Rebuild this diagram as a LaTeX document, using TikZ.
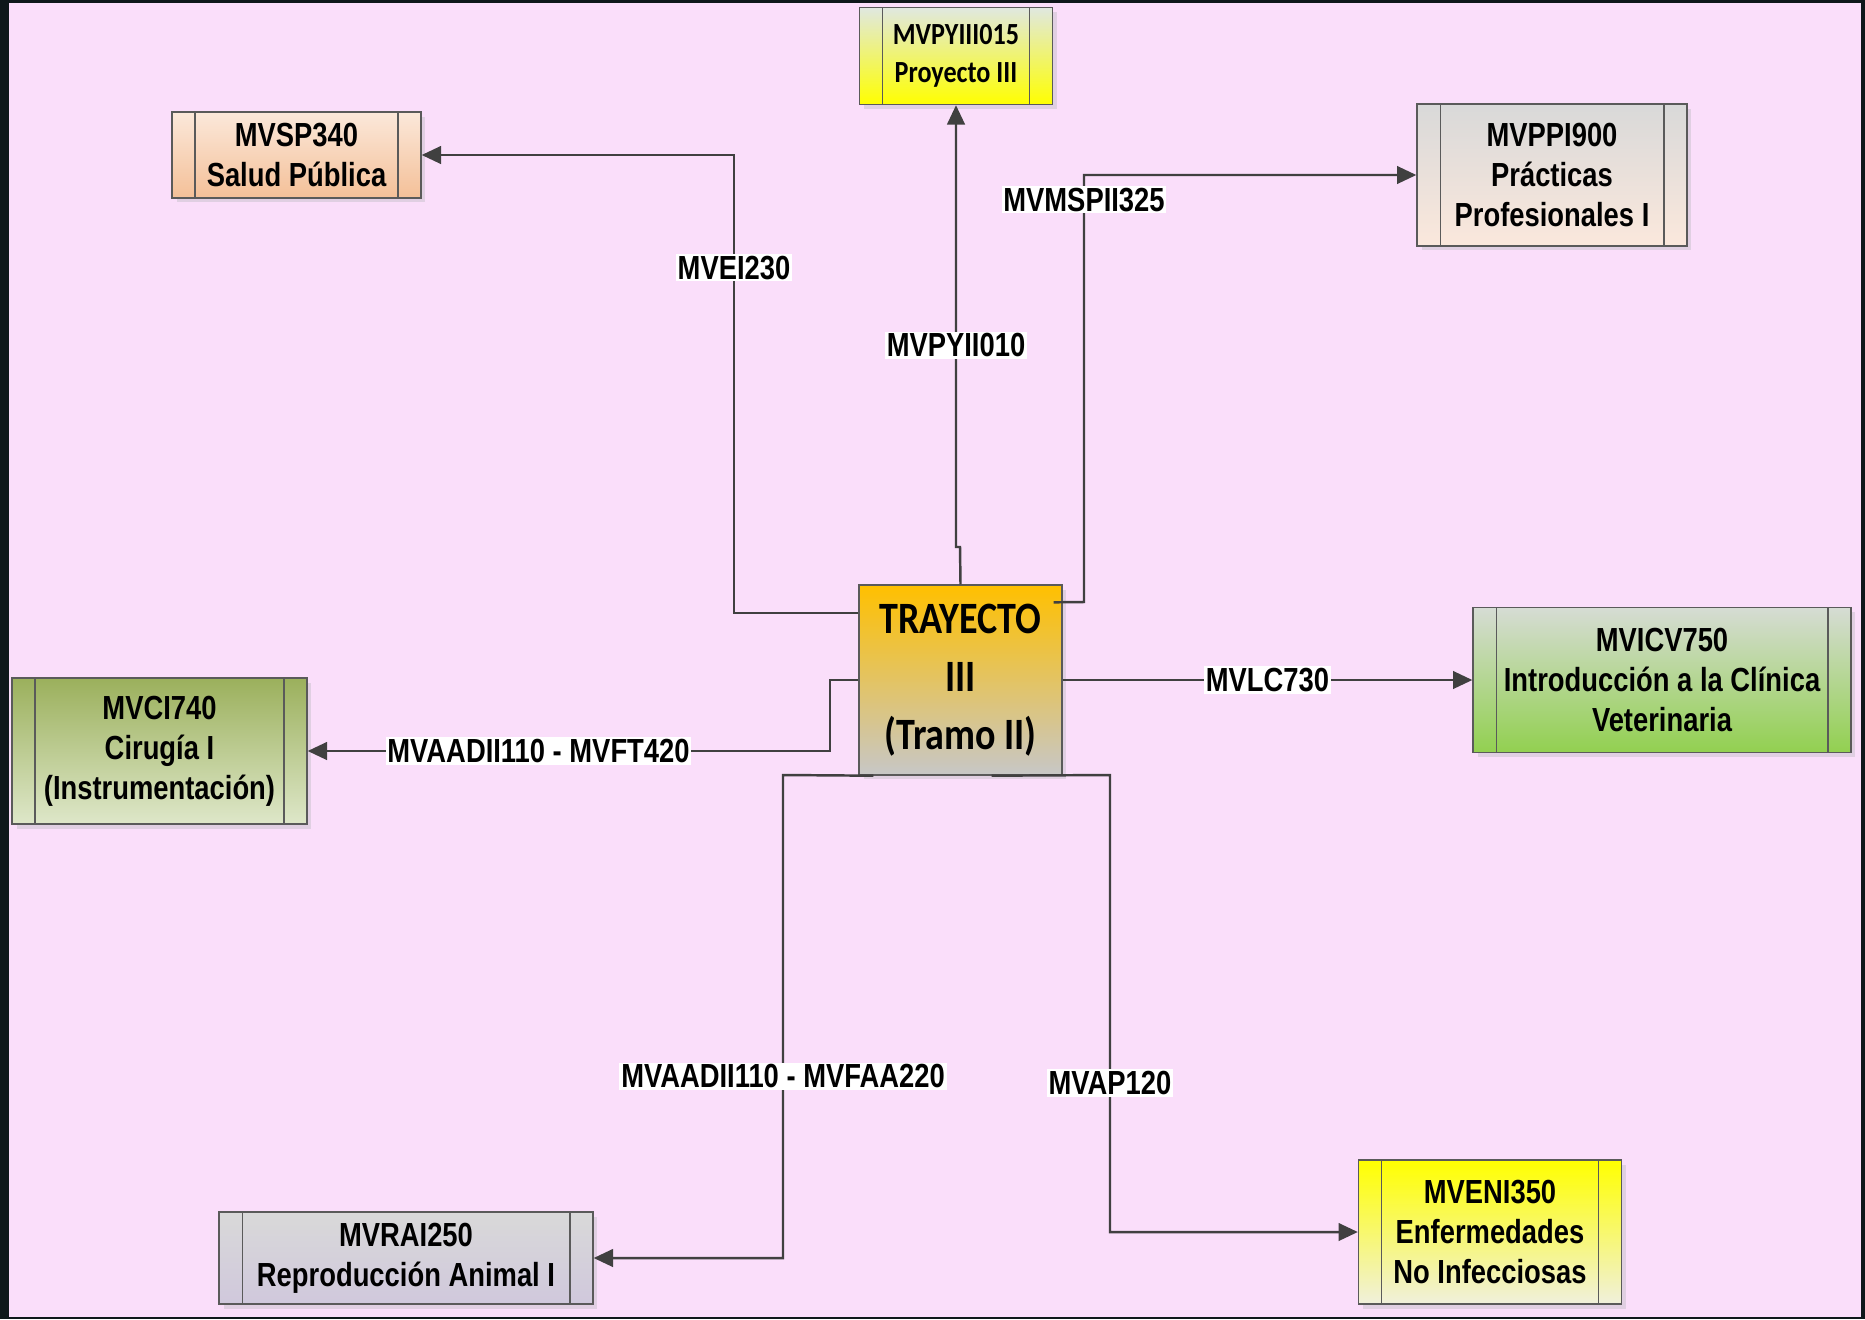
\documentclass[tikz,border=0pt]{standalone}
\usepackage{fontspec}
\newfontfamily\narrowfont{Liberation Sans}[FakeStretch=0.82]
\newfontfamily\califont{Carlito}[FakeStretch=0.85]
\usetikzlibrary{arrows.meta,shadows}
\definecolor{fondrose}{HTML}{FADEFA}
\definecolor{fondnoir}{HTML}{0E171A}
\definecolor{trait}{HTML}{404040}
\definecolor{bord}{HTML}{5A5A5A}
\definecolor{ombre}{HTML}{E0CFE2}
\tikzset{
  materia/.style={draw=bord, line width=0.8pt, align=center, inner sep=0pt,
    font=\narrowfont\bfseries\fontsize{19}{22.7}\selectfont,
    drop shadow={shadow xshift=0.09cm, shadow yshift=-0.09cm, fill=ombre, opacity=1},
    path picture={\draw[bord, line width=0.6pt]
      ([xshift=0.46cm]path picture bounding box.north west) -- ([xshift=0.46cm]path picture bounding box.south west)
      ([xshift=-0.46cm]path picture bounding box.north east) -- ([xshift=-0.46cm]path picture bounding box.south east);}},
  enlace/.style={draw=trait, line width=1.4pt, -{Triangle[length=11pt,width=10pt]}},
  etiqueta/.style={fill=white, inner sep=1pt, font=\narrowfont\bfseries\fontsize{19}{22.7}\selectfont}
}
\begin{document}
\begin{tikzpicture}[x=0.02cm, y=-0.02cm]
  \useasboundingbox (0,0) rectangle (1865,1319);
  \fill[fondnoir] (0,0) rectangle (1865,1319);
  \fill[fondrose] (9,3) rectangle (1861,1317);
  % materias
  \node[materia, minimum width=4.06cm, minimum height=3.80cm, path picture={}, top color={rgb,255:red,255;green,192;blue,0}, bottom color=black!22,
        font=\califont\bfseries\fontsize{25.5}{33}\selectfont] (tray) at (960.5,680) {TRAYECTO\\III\\(Tramo II)};
  \node[materia, minimum width=3.86cm, minimum height=1.94cm, top color={rgb,255:red,224;green,232;blue,224}, bottom color=yellow,
        font=\califont\bfseries\fontsize{17.5}{21.5}\selectfont] (proy) at (956,56) {MVPYIII015\\Proyecto III};
  \node[materia, minimum width=4.98cm, minimum height=1.72cm, top color={rgb,255:red,251;green,232;blue,218}, bottom color={rgb,255:red,244;green,192;blue,152}] (salud) at (296.5,155) {MVSP340\\Salud Pública};
  \node[materia, minimum width=5.40cm, minimum height=2.84cm, top color=black!15, bottom color={rgb,255:red,251;green,232;blue,220}] (ppi) at (1552,175) {MVPPI900\\Prácticas\\Profesionales I};
  \node[materia, minimum width=5.90cm, minimum height=2.92cm, top color={rgb,255:red,155;green,176;blue,92}, bottom color={rgb,255:red,222;green,231;blue,201}] (cir) at (159.5,751) {MVCI740\\Cirugía I\\(Instrumentación)};
  \node[materia, minimum width=7.56cm, minimum height=2.90cm, top color={rgb,255:red,214;green,220;blue,212}, bottom color={rgb,255:red,146;green,208;blue,80}] (icv) at (1662,680) {MVICV750\\Introducción a la Clínica\\Veterinaria};
  \node[materia, minimum width=7.48cm, minimum height=1.84cm, top color=black!15, bottom color={rgb,255:red,208;green,200;blue,220}] (rai) at (406,1258) {MVRAI250\\Reproducción Animal I};
  \node[materia, minimum width=5.26cm, minimum height=2.88cm, top color=yellow, bottom color={rgb,255:red,240;green,240;blue,220}] (eni) at (1490,1232) {MVENI350\\Enfermedades\\No Infecciosas};
  % enlaces
  \draw[enlace] (tray.west |- 0,613) -- (734,613) |- node[etiqueta, pos=0.377] {MVEI230} (salud.east);
  \draw[enlace] (tray.north) -- (960,547) -- (956,547) -- node[etiqueta, pos=0.457] {MVPYII010} (proy.south);
  \draw[enlace] ([shift={(-9,18)}]tray.north east) -- (1084,602) |- node[etiqueta, pos=0.471] {MVMSPII325} (ppi.west);
  \draw[enlace] (tray.east) -- node[etiqueta] {MVLC730} (icv.west);
  \draw[enlace] (tray.west) -- (830,680) |- node[etiqueta, pos=0.779] {MVAADII110 - MVFT420} (cir.east);
  \draw[enlace] ([shift={(15,0)}]tray.south west) -- (783,775) |- node[etiqueta, pos=0.312] {MVAADII110 - MVFAA220} (rai.east);
  \draw[enlace] ([shift={(-71,0)}]tray.south east) -- (1110,775) |- node[etiqueta, pos=0.337] {MVAP120} (eni.west);
\end{tikzpicture}
\end{document}
